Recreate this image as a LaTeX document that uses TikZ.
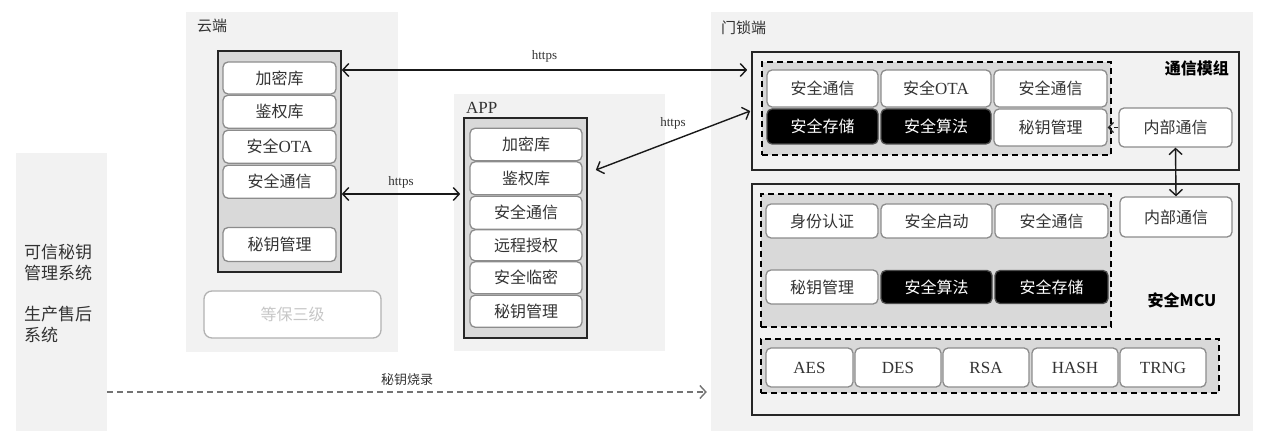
\documentclass[tikz,border=0pt]{standalone}
\usepackage{fontspec}
\setmainfont{Liberation Serif}
\newfontfamily\cjk{Noto Sans CJK SC}
\usetikzlibrary{arrows.meta,calc}
\newcommand{\myfs}[1]{\fontsize{#1}{#1}\selectfont}
\definecolor{panelgray}{HTML}{F2F2F2}
\definecolor{innergray}{HTML}{D9D9D9}
\definecolor{itemborder}{HTML}{8C8C8C}
\definecolor{txt}{HTML}{333333}
\tikzset{
  panel/.style={fill=panelgray, draw=none, inner sep=0pt},
  innerbox/.style={draw=black!85, fill=innergray, line width=1.6pt, inner sep=0pt},
  modbox/.style={draw=black!85, fill=panelgray, line width=1.6pt, inner sep=0pt},
  dbox/.style={draw=black, dash pattern=on 6pt off 4pt, line width=1.4pt, fill=innergray, inner sep=0pt},
  item/.style={draw=itemborder, fill=white, rounded corners=5pt, line width=1.3pt, inner sep=0pt,
    font=\cjk\myfs{16}, text=txt},
  blk/.style={item, fill=black, draw=black!70, text=white},
  lat/.style={item, font=\rmfamily\myfs{17}},
  lbl/.style={inner sep=0pt, text=txt},
  link/.style={line width=1.4pt, draw=black!90, {Straight Barb[length=6pt,width=13pt]}-{Straight Barb[length=6pt,width=13pt]}},
}
\begin{document}
\begin{tikzpicture}[x=1pt,y=-1pt]
\useasboundingbox (0,0) rectangle (1269,446);
% panels
\node[panel, minimum width=91pt, minimum height=278pt] (left) at (61.5,292) {};
\node[panel, minimum width=212pt, minimum height=340pt] (cloud) at (292,182) {};
\node[panel, minimum width=211pt, minimum height=257pt] (app) at (559.5,222.5) {};
\node[panel, minimum width=542pt, minimum height=419pt] (lock) at (982,221.5) {};

% left texts
\node[lbl, anchor=west, align=left, font=\cjk\fontsize{17}{21}\selectfont] (lt1) at (24,262.5) {可信秘钥\\管理系统};
\node[lbl, anchor=west, align=left, font=\cjk\fontsize{17}{21}\selectfont] (lt2) at (24,324) {生产售后\\系统};

% cloud
\node[lbl, anchor=west, font=\cjk\myfs{15}] (cloudlbl) at (197,26) {云端};
\node[innerbox, minimum width=123pt, minimum height=221pt] (cloudin) at (279.5,161.5) {};
\node[item, minimum width=113pt, minimum height=32pt] (c1) at (279.5,78) {加密库};
\node[item, minimum width=113pt, minimum height=33pt] (c2) at (279.5,111.7) {鉴权库};
\node[item, minimum width=113pt, minimum height=33pt] (c3) at (279.5,146.7) {安全{\rmfamily\myfs{17}OTA}};
\node[item, minimum width=113pt, minimum height=33pt] (c4) at (279.5,181.7) {安全通信};
\node[item, minimum width=113pt, minimum height=34pt] (c5) at (279.5,244.5) {秘钥管理};
\node[item, draw=black!30, rounded corners=8pt, minimum width=177pt, minimum height=47pt, text=black!22] (c6) at (292.5,314.5) {等保三级};

% app
\node[lbl, anchor=west, font=\rmfamily\myfs{17}] (applbl) at (466,108) {APP};
\node[innerbox, minimum width=123pt, minimum height=220pt] (appin) at (525.5,228) {};
\node[item, minimum width=112pt, minimum height=32.5pt] (a1) at (526,144.5) {加密库};
\node[item, minimum width=112pt, minimum height=33pt] (a2) at (526,178.3) {鉴权库};
\node[item, minimum width=112pt, minimum height=33pt] (a3) at (526,212.7) {安全通信};
\node[item, minimum width=112pt, minimum height=31pt] (a4) at (526,245.3) {远程授权};
\node[item, minimum width=112pt, minimum height=32pt] (a5) at (526,277.8) {安全临密};
\node[item, minimum width=112pt, minimum height=32pt] (a6) at (526,311.2) {秘钥管理};

% lock side
\node[lbl, anchor=west, font=\cjk\myfs{15}] (locklbl) at (721,28) {门锁端};
\node[modbox, minimum width=487pt, minimum height=118pt] (comm) at (995.5,111) {};
\node[modbox, minimum width=487pt, minimum height=231pt] (mcu) at (995.5,299.5) {};
\node[lbl, anchor=east, font=\cjk\bfseries\myfs{16}, text=black] (commlbl) at (1229,68) {通信模组};
\node[lbl, font=\cjk\bfseries\myfs{16}, text=black] (mculbl) at (1182,300) {安全MCU};

\node[dbox, minimum width=349pt, minimum height=93pt] (cd) at (936.5,108.5) {};
\node[item, minimum width=111pt, minimum height=37pt] (m1) at (822.5,88.5) {安全通信};
\node[item, minimum width=110pt, minimum height=37pt] (m2) at (936,88.5) {安全{\rmfamily\myfs{17}OTA}};
\node[item, minimum width=113pt, minimum height=37pt] (m3) at (1050.5,88.5) {安全通信};
\node[blk, minimum width=111pt, minimum height=35pt] (m4) at (822.5,126.5) {安全存储};
\node[blk, minimum width=110pt, minimum height=35pt] (m5) at (936,126.5) {安全算法};
\node[item, minimum width=113pt, minimum height=37pt] (m6) at (1050.5,127.5) {秘钥管理};
\node[item, minimum width=113pt, minimum height=39pt] (ci) at (1175.5,127.5) {内部通信};

\node[dbox, minimum width=350pt, minimum height=133pt] (md1) at (936,260.5) {};
\node[item, minimum width=112pt, minimum height=34pt] (s1) at (822,221) {身份认证};
\node[item, minimum width=111pt, minimum height=34pt] (s2) at (936.5,221) {安全启动};
\node[item, minimum width=113pt, minimum height=34pt] (s3) at (1051.5,221) {安全通信};
\node[item, minimum width=112pt, minimum height=34pt] (s4) at (822,287) {秘钥管理};
\node[blk, minimum width=111pt, minimum height=33pt] (s5) at (936.5,287) {安全算法};
\node[blk, minimum width=113pt, minimum height=33pt] (s6) at (1051.5,287) {安全存储};
\node[item, minimum width=112pt, minimum height=40pt] (mi) at (1176,217) {内部通信};

\node[dbox, minimum width=458pt, minimum height=54pt] (md2) at (990,366) {};
\node[lat, minimum width=87pt, minimum height=39pt] (g1) at (809.5,367.5) {AES};
\node[lat, minimum width=86pt, minimum height=39pt] (g2) at (898,367.5) {DES};
\node[lat, minimum width=86pt, minimum height=39pt] (g3) at (986,367.5) {RSA};
\node[lat, minimum width=86pt, minimum height=39pt] (g4) at (1075,367.5) {HASH};
\node[lat, minimum width=86pt, minimum height=39pt] (g5) at (1163,367.5) {TRNG};

% connectors
\draw[link] (cloudin.east |- 0,70) -- node[lbl, above=7pt, font=\rmfamily\myfs{13}] (h1) {https} ($(comm.west |- 0,70)+(-4,0)$);
\draw[link] (cloudin.east |- 0,194) -- node[lbl, above=5pt, font=\rmfamily\myfs{13}] (h2) {https} ($(appin.west |- 0,194)+(-3,0)$);
\draw[link] ($(appin.east |- 0,170)+(8,0)$) -- ($(comm.west |- 0,111)+(-1,0)$);
\node[lbl, font=\rmfamily\myfs{13}] (h3) at (673,123) {https};
\draw[link] (ci.south) -- (mi.north);
\draw[line width=1.2pt, draw=black!85, dash pattern=on 4pt off 3pt, -{Straight Barb[length=5pt,width=10pt]}] (ci.west) -- (m6.east);
\draw[line width=1.4pt, draw=black!55, dash pattern=on 6pt off 4pt, -{Straight Barb[length=6pt,width=13pt]}]
  (left.east |- 0,392) -- node[lbl, above=6pt, font=\cjk\myfs{13}] (burn) {秘钥烧录} ($(lock.west |- 0,392)+(-4,0)$);
\end{tikzpicture}
\end{document}
